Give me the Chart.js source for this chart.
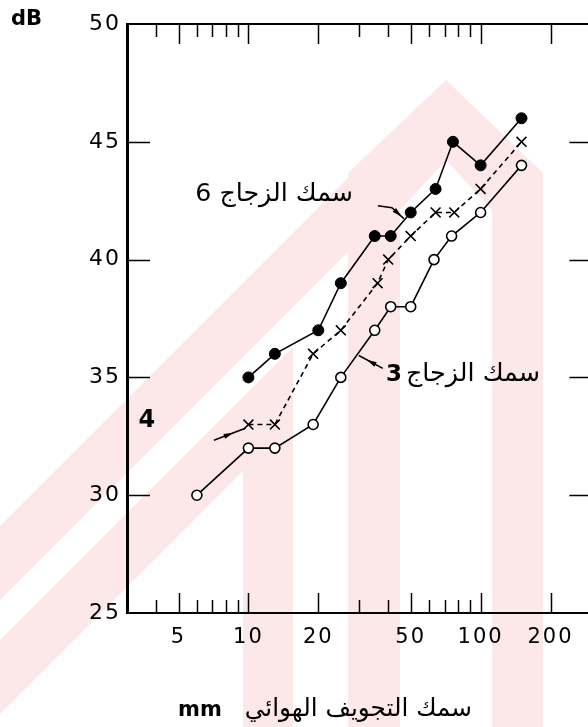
<!DOCTYPE html>
<html><head><meta charset="utf-8">
<script src="https://cdn.jsdelivr.net/npm/chart.js@4.4.1/dist/chart.umd.min.js"></script>
<style>
html,body{margin:0;padding:0;background:#fff;overflow:hidden;width:588px;height:727px;}
#wrap{position:relative;width:600px;height:727px;}
canvas{display:block;}
</style></head><body>
<div id="wrap"><canvas id="c" width="600" height="727" style="width:600px;height:727px"></canvas></div>
<script>
// ---- data ----
const filledX = [10, 13, 20, 25, 35, 41, 50, 64, 76, 100, 150];
const filledY = [35, 36, 37, 39, 41, 41, 42, 43, 45, 44, 46];
const crossX  = [10, 13, 19, 25, 36, 40, 50, 64, 77, 100, 150];
const crossY  = [33, 33, 36, 37, 39, 40, 41, 42, 42, 43, 45];
const openX   = [6, 10, 13, 19, 25, 35, 41, 50, 63, 75, 100, 150];
const openY   = [30, 32, 32, 33, 35, 37, 38, 38, 40, 41, 42, 44];

const xTickLabels = [5, 10, 20, 50, 100, 200];
const xMinorTicks = [4, 5, 6, 7, 8, 9, 10, 20, 30, 40, 50, 60, 70, 80, 90, 100, 200];
const yInnerTicks = [30, 35, 40, 45];

const yAxisUnit = 'dB';
const xTitleArabic = 'سمك التجويف الهوائي';
const xTitleUnit = 'mm';
const label6Text = 'سمك الزجاج 6';
const label3Text = 'سمك الزجاج';
const label3Num = '3';
const label4Text = '4';

// annotation anchors in data units
const label6Anchor = [28.2, 42.5];
const label3Anchor = [39.1, 34.83];
const label4Anchor = [3.65, 32.88];
const leader6 = [[36.1, 42.29], [41.5, 42.2], [46.7, 41.74]];
const leader3 = [[29.9, 35.93], [37.9, 35.38]];
const leader4 = [[7.1, 32.33], [9.7, 32.84]];

const pts = (xs, ys) => xs.map((x, i) => ({x: x, y: ys[i]}));

const AR = '"DejaVu Sans", sans-serif';

const decor = {
  id: 'decor',
  beforeDraw(chart) {
    const ctx = chart.ctx;
    ctx.save();
    ctx.fillStyle = '#fff';
    ctx.fillRect(0, 0, chart.width, chart.height);
    // light watermark
    ctx.fillStyle = 'rgb(252,232,232)';
    const polys = [
      [[348,727],[348,173],[446,80],[543,173],[543,727],[492,727],[492,210],[446,160],[400,210],[400,727]],
      [[348,178],[348,252],[0,600],[0,526]],
      [[243,397],[293,347],[293,727],[243,727],[243,471],[0,714],[0,640]]
    ];
    polys.forEach(p => {
      ctx.beginPath();
      p.forEach((q, i) => i ? ctx.lineTo(q[0], q[1]) : ctx.moveTo(q[0], q[1]));
      ctx.closePath();
      ctx.fill();
    });
    ctx.restore();
    ctx.letterSpacing = '2px';
  },
  afterDraw(chart) {
    const ctx = chart.ctx;
    ctx.letterSpacing = '0px';
    const xs = chart.scales.x, ys = chart.scales.y;
    const a = chart.chartArea;
    const px = v => xs.getPixelForValue(v);
    const py = v => ys.getPixelForValue(v);
    ctx.save();
    ctx.strokeStyle = '#000';
    ctx.fillStyle = '#000';
    // top axis line
    ctx.lineWidth = 2;
    ctx.beginPath();
    ctx.moveTo(a.left, a.top);
    ctx.lineTo(a.right, a.top);
    ctx.stroke();
    // inward x ticks (top and bottom)
    ctx.lineWidth = 1.5;
    xMinorTicks.forEach(v => {
      const x = Math.round(px(v)) + 0.5;
      const len = xTickLabels.includes(v) ? 20 : 13;
      ctx.beginPath();
      ctx.moveTo(x, a.top); ctx.lineTo(x, a.top + len);
      ctx.moveTo(x, a.bottom); ctx.lineTo(x, a.bottom - len);
      ctx.stroke();
    });
    // inward y ticks (left and right)
    yInnerTicks.forEach(v => {
      const y = Math.round(py(v)) + 0.5;
      ctx.beginPath();
      ctx.moveTo(a.left, y); ctx.lineTo(a.left + 23, y);
      ctx.moveTo(a.right, y); ctx.lineTo(a.right - 22, y);
      ctx.stroke();
    });
    // leader lines
    const drawLeader = (arr) => {
      ctx.lineWidth = 1.5;
      ctx.beginPath();
      arr.forEach((p, i) => i ? ctx.lineTo(px(p[0]), py(p[1])) : ctx.moveTo(px(p[0]), py(p[1])));
      ctx.stroke();
      const p0 = arr[arr.length - 2], p1 = arr[arr.length - 1];
      const x0 = px(p0[0]), y0 = py(p0[1]), x1 = px(p1[0]), y1 = py(p1[1]);
      const mx = x0 + (x1 - x0) * 0.45, my = y0 + (y1 - y0) * 0.45;
      const ang = Math.atan2(y1 - y0, x1 - x0);
      ctx.beginPath();
      ctx.moveTo(mx + Math.cos(ang) * 6, my + Math.sin(ang) * 6);
      ctx.lineTo(mx - Math.cos(ang) * 4 + Math.sin(ang) * 2.5, my - Math.sin(ang) * 4 - Math.cos(ang) * 2.5);
      ctx.lineTo(mx - Math.cos(ang) * 4 - Math.sin(ang) * 2.5, my - Math.sin(ang) * 4 + Math.cos(ang) * 2.5);
      ctx.closePath();
      ctx.fill();
    };
    drawLeader(leader6);
    drawLeader([leader3[1], leader3[0]]);
    drawLeader(leader4);

    // "dB"
    ctx.font = 'bold 21px "DejaVu Sans"';
    ctx.textAlign = 'left';
    ctx.textBaseline = 'alphabetic';
    ctx.fillText(yAxisUnit, 11, 25);

    // "4"
    ctx.font = 'bold 24px "DejaVu Sans"';
    ctx.textAlign = 'center';
    ctx.fillText(label4Text, px(label4Anchor[0]), py(label4Anchor[1]));

    const fitFont = (text, width, weight) => {
      ctx.font = weight + ' 20px ' + AR;
      const w = ctx.measureText(text).width;
      let s = 20 * width / w;
      s = Math.max(14, Math.min(26, s));
      return weight + ' ' + s.toFixed(1) + 'px ' + AR;
    };

    // label 6
    ctx.direction = 'rtl';
    ctx.textAlign = 'right';
    ctx.font = fitFont(label6Text, 158, 'normal');
    ctx.fillText(label6Text, px(label6Anchor[0]), py(label6Anchor[1]));

    // label 3
    const x3 = px(label3Anchor[0]), y3 = py(label3Anchor[1]);
    ctx.direction = 'ltr';
    ctx.textAlign = 'left';
    ctx.font = 'bold 23px "DejaVu Sans"';
    ctx.fillText(label3Num, x3, y3);
    ctx.direction = 'rtl';
    ctx.textAlign = 'right';
    ctx.font = fitFont(label3Text, 134, 'normal');
    ctx.fillText(label3Text, 540, y3);

    // x title
    ctx.font = fitFont(xTitleArabic, 227, 'normal');
    ctx.fillText(xTitleArabic, 472, 716);
    ctx.direction = 'ltr';
    ctx.textAlign = 'left';
    ctx.font = 'bold 21px "DejaVu Sans"';
    ctx.fillText(xTitleUnit, 178, 716);
    ctx.restore();
  }
};

new Chart(document.getElementById('c'), {
  type: 'scatter',
  data: {
    datasets: [
      { data: pts(filledX, filledY), showLine: true, borderColor: '#000', backgroundColor: '#000',
        borderWidth: 1.6, pointStyle: 'circle', pointRadius: 5.5, pointBackgroundColor: '#000',
        pointBorderColor: '#000', pointBorderWidth: 1 },
      { data: pts(crossX, crossY), showLine: true, borderColor: '#000', backgroundColor: '#000',
        borderWidth: 1.6, borderDash: [5, 4], pointStyle: 'crossRot', pointRadius: 7,
        pointBorderColor: '#000', pointBorderWidth: 1.6 },
      { data: pts(openX, openY), showLine: true, borderColor: '#000', backgroundColor: '#fff',
        borderWidth: 1.6, pointStyle: 'circle', pointRadius: 5, pointBackgroundColor: '#fff',
        pointBorderColor: '#000', pointBorderWidth: 1.6 }
    ]
  },
  options: {
    responsive: false,
    animation: false,
    devicePixelRatio: 1,
    layout: { padding: { top: 24, right: 7, bottom: 0, left: 0 } },
    plugins: { legend: { display: false }, tooltip: { enabled: false } },
    scales: {
      x: {
        type: 'logarithmic', min: 3, max: 300, position: 'bottom',
        grid: { display: false, drawTicks: false },
        border: { display: true, color: '#000', width: 2 },
        ticks: { color: '#000', font: { family: 'DejaVu Sans', size: 21 }, padding: 12,
                 autoSkip: false, maxRotation: 0, callback: v => String(v) },
        afterBuildTicks: s => { s.ticks = xTickLabels.map(v => ({ value: v })); },
        afterFit: s => { s.height = 114; }
      },
      y: {
        type: 'linear', min: 25, max: 50,
        grid: { display: false, drawTicks: false },
        border: { display: true, color: '#000', width: 3 },
        ticks: { stepSize: 5, color: '#000', font: { family: 'DejaVu Sans', size: 22 }, padding: 6 },
        afterFit: s => { s.width = 127; }
      }
    }
  },
  plugins: [decor]
});
</script>
</body></html>
